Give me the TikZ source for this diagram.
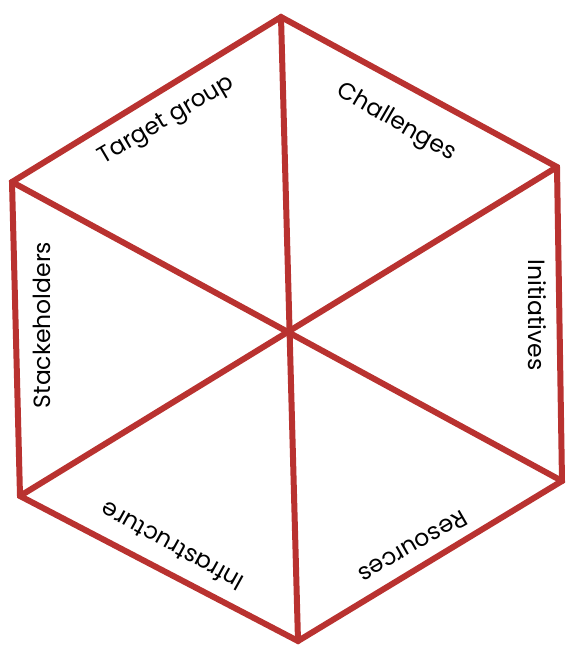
\documentclass[tikz,border=0pt]{standalone}
\usepackage{fontspec}
\setmainfont{Poppins}
\definecolor{hexred}{RGB}{185,50,48}
\begin{document}
\begin{tikzpicture}[x=1pt,y=-1pt,
  edge/.style={draw=hexred,line width=6pt,line join=miter,line cap=round},
  lbl/.style={font=\fontsize{23.5}{26}\selectfont,text=black,inner sep=0pt}]
\useasboundingbox (0,0) rectangle (565,645);
\coordinate (T) at (281,17);
\coordinate (UR) at (557,167);
\coordinate (LR) at (562,481);
\coordinate (B) at (298,641);
\coordinate (LL) at (20,496);
\coordinate (UL) at (12,182);
\coordinate (C) at (289,330);
\draw[edge] (T) -- (UR) -- (LR) -- (B) -- (LL) -- (UL) -- cycle;
\draw[edge] (T) -- (B);
\draw[edge] (UL) -- (LR);
\draw[edge] (UR) -- (LL);
\node[lbl,rotate=30.5] (tg) at (167,121) {Target group};
\node[lbl,rotate=-30] (ch) at (396,123) {Challenges};
\node[lbl,rotate=-90] (in) at (537,315) {Initiatives};
\node[lbl,rotate=210] (re) at (413,547) {Resources};
\node[lbl,rotate=151] (inf) at (172,547) {Infrastructure};
\node[lbl,rotate=90] (st) at (42,325) {Stackeholders};
\end{tikzpicture}
\end{document}
